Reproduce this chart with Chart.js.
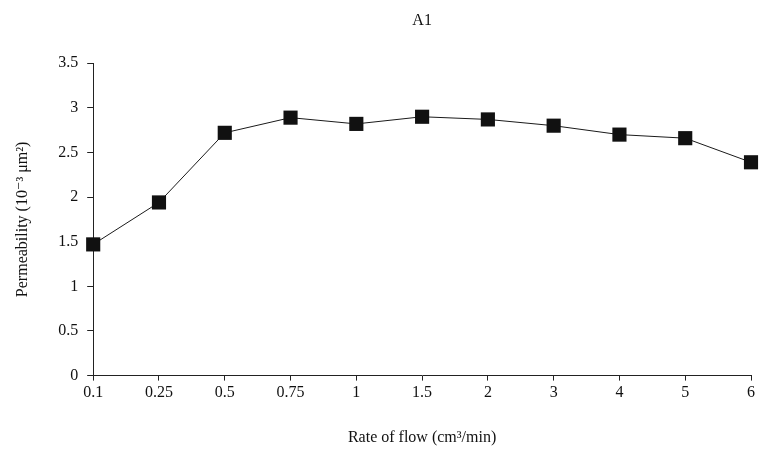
<!DOCTYPE html>
<html>
<head>
<meta charset="utf-8">
<script src="https://cdn.jsdelivr.net/npm/chart.js@4.4.1/dist/chart.umd.min.js"></script>
<style>
  html, body { margin: 0; padding: 0; background: #fff; }
  #wrap { width: 761px; height: 457px; }
</style>
</head>
<body>
<div id="wrap"><canvas id="chart" width="761" height="457"></canvas></div>
<script>
"use strict";
// dati
const rates = ["0.1", "0.25", "0.5", "0.75", "1", "1.5", "2", "3", "4", "5", "6"];
const permeability = [1.47, 1.94, 2.72, 2.89, 2.82, 2.90, 2.87, 2.80, 2.70, 2.66, 2.39];
const yMin = 0, yMax = 3.5, yStep = 0.5;

const serif = "'Liberation Serif', 'DejaVu Serif', serif";

window.onload = function() {
    let _canvas = document.getElementById("chart");
    new Chart(_canvas, {
        type: "line",
        data: {
            labels: rates,
            datasets: [{
                label: "A1",
                data: permeability,
                borderColor: "#1a1a1a",
                borderWidth: 1,
                pointStyle: "rect",
                pointRadius: 10,
                pointBackgroundColor: "#111",
                pointBorderColor: "#111",
                pointBorderWidth: 0,
                tension: 0,
                clip: false
            }]
        },
        options: {
            responsive: false,
            animation: false,
            layout: { padding: { left: 13, right: 4, top: 6, bottom: 10 } },
            plugins: {
                legend: { display: false },
                tooltip: { enabled: false },
                title: {
                    display: true,
                    fullSize: false, // centrato sull'area del grafico
                    text: "A1",
                    color: "#111",
                    font: { family: serif, size: 16, weight: "normal" },
                    padding: { top: 5, bottom: 33 }
                }
            },
            scales: {
                x: {
                    type: "category",
                    offset: false,
                    border: { display: true, color: "#222", width: 1 },
                    grid: { drawOnChartArea: false, drawTicks: true, tickLength: 5, color: "#222" },
                    ticks: { color: "#111", font: { family: serif, size: 16 }, padding: 3, maxRotation: 0 },
                    title: {
                        display: true,
                        text: "Rate of flow (cm³/min)",
                        color: "#111",
                        font: { family: serif, size: 16 },
                        padding: { top: 22, bottom: 0 }
                    }
                },
                y: {
                    min: yMin,
                    max: yMax,
                    border: { display: true, color: "#222", width: 1 },
                    grid: { drawOnChartArea: false, drawTicks: true, tickLength: 6, color: "#222" },
                    ticks: {
                        stepSize: yStep,
                        color: "#111",
                        font: { family: serif, size: 16 },
                        padding: 9,
                        callback: function(value) { return `${value}`; }
                    },
                    title: {
                        display: true,
                        text: "Permeability (10⁻³ μm²)",
                        color: "#111",
                        font: { family: serif, size: 16 },
                        padding: { top: 0, bottom: 17 }
                    }
                }
            }
        }
    });
};
</script>
</body>
</html>
